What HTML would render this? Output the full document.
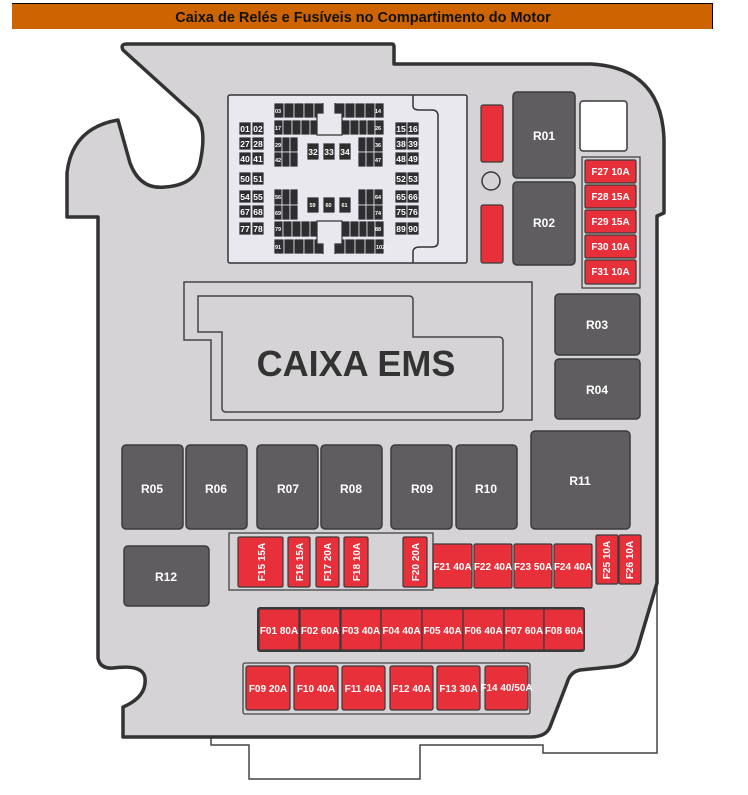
<!DOCTYPE html>
<html><head><meta charset="utf-8"><style>
html,body{margin:0;padding:0;background:#fff;}
svg{display:block;}
text{font-family:"Liberation Sans",Arial,sans-serif;font-weight:bold;}
.r{fill:#5f5d60;stroke:#3a3a3a;stroke-width:1.5;}
.rt{fill:#fff;font-size:12px;text-anchor:middle;}
.f{fill:#e8303a;stroke:#3a3a3a;stroke-width:1.2;}
.ft{fill:#fff;font-size:10px;text-anchor:middle;}
.p{fill:#2e2e30;stroke:#e8e8ee;stroke-width:0.8;}
.pt{fill:#fff;font-size:8.5px;text-anchor:middle;}
.ps{fill:#fff;font-size:5.5px;}
</style></head><body>
<svg width="748" height="795" viewBox="0 0 748 795" xmlns="http://www.w3.org/2000/svg">
<rect x="12" y="3" width="701" height="26" fill="#cd6400"/>
<line x1="12" y1="3.5" x2="713" y2="3.5" stroke="#000" stroke-width="1"/>
<line x1="712.5" y1="3" x2="712.5" y2="29" stroke="#000" stroke-width="1"/>
<text x="363" y="22" font-size="14.5" text-anchor="middle" fill="#111">Caixa de Relés e Fusíveis no Compartimento do Motor</text>

<path d="M211,737 L211,745 L249,745 L249,779 L420,779 L420,745 L543,745 L543,753 L657,753 L657,583" fill="none" stroke="#444" stroke-width="1.5"/>

<path d="M127,44 L392,44 Q394,44 394,47 L394,64 L591,64 Q662,68 664,140 L664,213 L657,216 L657,583 L638,647 Q632,666 610,667 L580,670 Q570,672 567,683 L550,727 Q546,737 530,737 L123,737 L123,707 Q147,697 145,678 Q143,664 113,668 Q100,669 98,658 L98,217 L67,217 L67,173 Q72,128 118,120 L130,163 Q140,190 165,187 Q195,185 200,163 Q207,130 197,117 L123,50 Q120,44 127,44 Z" fill="#d5d3d6" stroke="#333" stroke-width="3.5" stroke-linejoin="round"/>

<rect x="228" y="95" width="239" height="168" rx="2" fill="#e8e8ee" stroke="#333" stroke-width="1.5"/>
<path d="M413,95 L413,106 Q413,110 420,110 L432,110 Q438,110 438,116 L438,242 Q438,247 432,247 L420,247 Q413,247 413,252 L413,263" fill="none" stroke="#333" stroke-width="1.5"/>
<g>
<rect class="p" x="239" y="122" width="12" height="13"/><rect class="p" x="252" y="122" width="12" height="13"/>
<rect class="p" x="239" y="137" width="12" height="13"/><rect class="p" x="252" y="137" width="12" height="13"/>
<rect class="p" x="239" y="152" width="12" height="13"/><rect class="p" x="252" y="152" width="12" height="13"/>
<rect class="p" x="239" y="172" width="12" height="13"/><rect class="p" x="252" y="172" width="12" height="13"/>
<rect class="p" x="239" y="190" width="12" height="13"/><rect class="p" x="252" y="190" width="12" height="13"/>
<rect class="p" x="239" y="205" width="12" height="13"/><rect class="p" x="252" y="205" width="12" height="13"/>
<rect class="p" x="239" y="222" width="12" height="13"/><rect class="p" x="252" y="222" width="12" height="13"/>
<text class="pt" x="245" y="132">01</text><text class="pt" x="258" y="132">02</text>
<text class="pt" x="245" y="147">27</text><text class="pt" x="258" y="147">28</text>
<text class="pt" x="245" y="162">40</text><text class="pt" x="258" y="162">41</text>
<text class="pt" x="245" y="182">50</text><text class="pt" x="258" y="182">51</text>
<text class="pt" x="245" y="200">54</text><text class="pt" x="258" y="200">55</text>
<text class="pt" x="245" y="215">67</text><text class="pt" x="258" y="215">68</text>
<text class="pt" x="245" y="232">77</text><text class="pt" x="258" y="232">78</text>

<rect class="p" x="395" y="122" width="12" height="13"/><rect class="p" x="407" y="122" width="12" height="13"/>
<rect class="p" x="395" y="137" width="12" height="13"/><rect class="p" x="407" y="137" width="12" height="13"/>
<rect class="p" x="395" y="152" width="12" height="13"/><rect class="p" x="407" y="152" width="12" height="13"/>
<rect class="p" x="395" y="172" width="12" height="13"/><rect class="p" x="407" y="172" width="12" height="13"/>
<rect class="p" x="395" y="190" width="12" height="13"/><rect class="p" x="407" y="190" width="12" height="13"/>
<rect class="p" x="395" y="205" width="12" height="13"/><rect class="p" x="407" y="205" width="12" height="13"/>
<rect class="p" x="395" y="222" width="12" height="13"/><rect class="p" x="407" y="222" width="12" height="13"/>
<text class="pt" x="401" y="132">15</text><text class="pt" x="413" y="132">16</text>
<text class="pt" x="401" y="147">38</text><text class="pt" x="413" y="147">39</text>
<text class="pt" x="401" y="162">48</text><text class="pt" x="413" y="162">49</text>
<text class="pt" x="401" y="182">52</text><text class="pt" x="413" y="182">53</text>
<text class="pt" x="401" y="200">65</text><text class="pt" x="413" y="200">66</text>
<text class="pt" x="401" y="215">75</text><text class="pt" x="413" y="215">76</text>
<text class="pt" x="401" y="232">89</text><text class="pt" x="413" y="232">90</text>
</g>
<g>
<rect class="p" x="274" y="103" width="10" height="15"/><rect class="p" x="284" y="103" width="10" height="15"/><rect class="p" x="294" y="103" width="10" height="15"/><rect class="p" x="304" y="103" width="10" height="15"/><rect class="p" x="314" y="103" width="9" height="15"/>
<rect class="p" x="335" y="103" width="10" height="15"/><rect class="p" x="345" y="103" width="10" height="15"/><rect class="p" x="355" y="103" width="10" height="15"/><rect class="p" x="365" y="103" width="10" height="15"/><rect class="p" x="375" y="103" width="9" height="15"/>
<rect class="p" x="274" y="120" width="9" height="15"/><rect class="p" x="283" y="120" width="9" height="15"/><rect class="p" x="292" y="120" width="9" height="15"/><rect class="p" x="301" y="120" width="9" height="15"/><rect class="p" x="310" y="120" width="7" height="15"/>
<rect class="p" x="342" y="120" width="8" height="15"/><rect class="p" x="350" y="120" width="9" height="15"/><rect class="p" x="359" y="120" width="8" height="15"/><rect class="p" x="367" y="120" width="8" height="15"/><rect class="p" x="375" y="120" width="9" height="15"/>
<path d="M323,103 L323,113 L317,113 L317,135 L342,135 L342,113 L335,113 L335,103" fill="#e8e8ee" stroke="#333" stroke-width="1.2"/>
<text class="ps" x="275" y="113">03</text><text class="ps" x="375" y="113">14</text>
<text class="ps" x="275" y="130">17</text><text class="ps" x="375" y="130">26</text>
<rect class="p" x="274" y="221" width="9" height="16"/><rect class="p" x="283" y="221" width="9" height="16"/><rect class="p" x="292" y="221" width="9" height="16"/><rect class="p" x="301" y="221" width="9" height="16"/><rect class="p" x="310" y="221" width="7" height="16"/>
<rect class="p" x="342" y="221" width="8" height="16"/><rect class="p" x="350" y="221" width="9" height="16"/><rect class="p" x="359" y="221" width="8" height="16"/><rect class="p" x="367" y="221" width="8" height="16"/><rect class="p" x="375" y="221" width="9" height="16"/>
<rect class="p" x="274" y="239" width="10" height="15"/><rect class="p" x="284" y="239" width="10" height="15"/><rect class="p" x="294" y="239" width="10" height="15"/><rect class="p" x="304" y="239" width="10" height="15"/><rect class="p" x="314" y="239" width="9" height="15"/>
<rect class="p" x="335" y="239" width="10" height="15"/><rect class="p" x="345" y="239" width="10" height="15"/><rect class="p" x="355" y="239" width="10" height="15"/><rect class="p" x="365" y="239" width="10" height="15"/><rect class="p" x="375" y="239" width="9" height="15"/>
<path d="M323,254 L323,244 L317,244 L317,221 L342,221 L342,244 L335,244 L335,254" fill="#e8e8ee" stroke="#333" stroke-width="1.2"/>
<text class="ps" x="275" y="231">79</text><text class="ps" x="375" y="231">88</text>
<text class="ps" x="275" y="249">91</text><text class="ps" x="376" y="249">102</text>
<rect class="p" x="274" y="137" width="8" height="15"/><rect class="p" x="282" y="137" width="8" height="15"/><rect class="p" x="290" y="137" width="8" height="15"/>
<rect class="p" x="274" y="152" width="8" height="15"/><rect class="p" x="282" y="152" width="8" height="15"/><rect class="p" x="290" y="152" width="8" height="15"/>
<rect class="p" x="358" y="137" width="8" height="15"/><rect class="p" x="366" y="137" width="8" height="15"/><rect class="p" x="374" y="137" width="9" height="15"/>
<rect class="p" x="358" y="152" width="8" height="15"/><rect class="p" x="366" y="152" width="8" height="15"/><rect class="p" x="374" y="152" width="9" height="15"/>
<rect class="p" x="274" y="189" width="8" height="16"/><rect class="p" x="282" y="189" width="8" height="16"/><rect class="p" x="290" y="189" width="8" height="16"/>
<rect class="p" x="274" y="205" width="8" height="15"/><rect class="p" x="282" y="205" width="8" height="15"/><rect class="p" x="290" y="205" width="8" height="15"/>
<rect class="p" x="358" y="189" width="8" height="16"/><rect class="p" x="366" y="189" width="8" height="16"/><rect class="p" x="374" y="189" width="9" height="16"/>
<rect class="p" x="358" y="205" width="8" height="15"/><rect class="p" x="366" y="205" width="8" height="15"/><rect class="p" x="374" y="205" width="9" height="15"/>
<text class="ps" x="275" y="147">29</text><text class="ps" x="375" y="147">36</text>
<text class="ps" x="275" y="162">42</text><text class="ps" x="375" y="162">47</text>
<text class="ps" x="275" y="199">56</text><text class="ps" x="375" y="199">64</text>
<text class="ps" x="275" y="215">69</text><text class="ps" x="375" y="215">74</text>
<rect class="p" x="307" y="143" width="12" height="17"/><rect class="p" x="323" y="143" width="12" height="17"/><rect class="p" x="339" y="143" width="12" height="17"/>
<text class="pt" x="313" y="155">32</text><text class="pt" x="329" y="155">33</text><text class="pt" x="345" y="155">34</text>
<rect class="p" x="307" y="197" width="12" height="16"/><rect class="p" x="323" y="197" width="12" height="16"/><rect class="p" x="339" y="197" width="12" height="16"/>
<text class="ps" x="309.5" y="207">59</text><text class="ps" x="325.5" y="207">60</text><text class="ps" x="341.5" y="207">61</text>
</g>

<rect x="481" y="105" width="22" height="57" rx="2" fill="#e8303a" stroke="#3a3a3a" stroke-width="1.2"/>
<rect x="481" y="205" width="22" height="58" rx="2" fill="#e8303a" stroke="#3a3a3a" stroke-width="1.2"/>
<circle cx="491" cy="181" r="9" fill="none" stroke="#3a3a3a" stroke-width="1.5"/>

<rect class="r" x="513" y="92" width="62" height="86" rx="4"/><text class="rt" x="544" y="140">R01</text>
<rect class="r" x="513" y="182" width="62" height="83" rx="4"/><text class="rt" x="544" y="227">R02</text>
<rect x="580" y="101" width="47" height="50" rx="3" fill="#fff" stroke="#3a3a3a" stroke-width="1.5"/>

<rect x="582" y="157" width="58" height="131" fill="#d5d3d6" stroke="#444" stroke-width="1.3"/>
<rect class="f" x="585" y="160" width="51" height="23" rx="1.5"/><text class="ft" x="610.5" y="175" font-size="11">F27 10A</text>
<rect class="f" x="585" y="185" width="51" height="23" rx="1.5"/><text class="ft" x="610.5" y="200" font-size="11">F28 15A</text>
<rect class="f" x="585" y="210" width="51" height="23" rx="1.5"/><text class="ft" x="610.5" y="225" font-size="11">F29 15A</text>
<rect class="f" x="585" y="235" width="51" height="23" rx="1.5"/><text class="ft" x="610.5" y="250" font-size="11">F30 10A</text>
<rect class="f" x="585" y="260" width="51" height="24" rx="1.5"/><text class="ft" x="610.5" y="275" font-size="11">F31 10A</text>

<path d="M184,282 L532,282 L532,420 L211,420 L211,340 L184,340 Z" fill="none" stroke="#444" stroke-width="1.5"/>
<path d="M198,296 L409,296 Q413,296 413,300 L413,337 L499,337 Q503,337 503,341 L503,408 Q503,412 499,412 L226,412 Q222,412 222,408 L222,332 L198,332 Z" fill="none" stroke="#444" stroke-width="1.5"/>
<text x="356" y="376" font-size="36" text-anchor="middle" fill="#333">CAIXA EMS</text>

<rect class="r" x="555" y="294" width="85" height="61" rx="4"/><text class="rt" x="597" y="329">R03</text>
<rect class="r" x="555" y="359" width="85" height="60" rx="4"/><text class="rt" x="597" y="394">R04</text>
<rect class="r" x="531" y="431" width="99" height="98" rx="4"/><text class="rt" x="580" y="485">R11</text>

<rect class="r" x="122" y="445" width="61" height="84" rx="4"/><text class="rt" x="152" y="493">R05</text>
<rect class="r" x="186" y="445" width="61" height="84" rx="4"/><text class="rt" x="216" y="493">R06</text>
<rect class="r" x="257" y="445" width="61" height="84" rx="4"/><text class="rt" x="288" y="493">R07</text>
<rect class="r" x="321" y="445" width="61" height="84" rx="4"/><text class="rt" x="351" y="493">R08</text>
<rect class="r" x="391" y="445" width="61" height="84" rx="4"/><text class="rt" x="422" y="493">R09</text>
<rect class="r" x="456" y="445" width="61" height="84" rx="4"/><text class="rt" x="486" y="493">R10</text>
<rect class="r" x="124" y="546" width="85" height="60" rx="4"/><text class="rt" x="166" y="581">R12</text>

<rect x="229" y="533" width="204" height="57" fill="none" stroke="#444" stroke-width="1.3"/>
<rect class="f" x="238" y="537" width="45" height="50" rx="1.5"/><text class="ft" font-size="12" transform="translate(265,562) rotate(-90)">F15 15A</text>
<rect class="f" x="288" y="537" width="22" height="50" rx="1.5"/><text class="ft" font-size="11.5" transform="translate(303,562) rotate(-90)">F16 15A</text>
<rect class="f" x="316" y="537" width="23" height="50" rx="1.5"/><text class="ft" font-size="11.5" transform="translate(331,562) rotate(-90)">F17 20A</text>
<rect class="f" x="344" y="537" width="24" height="50" rx="1.5"/><text class="ft" font-size="11.5" transform="translate(360,562) rotate(-90)">F18 10A</text>
<rect class="f" x="403" y="537" width="24" height="50" rx="1.5"/><text class="ft" font-size="11.5" transform="translate(419,562) rotate(-90)">F20 20A</text>

<rect class="f" x="433" y="544" width="39" height="44" rx="1.5"/><text class="ft" x="452.5" y="570" font-size="9.5">F21 40A</text>
<rect class="f" x="474" y="544" width="38" height="44" rx="1.5"/><text class="ft" x="493" y="570" font-size="9.5">F22 40A</text>
<rect class="f" x="514" y="544" width="38" height="44" rx="1.5"/><text class="ft" x="533" y="570" font-size="9.5">F23 50A</text>
<rect class="f" x="554" y="544" width="38" height="44" rx="1.5"/><text class="ft" x="573" y="570" font-size="9.5">F24 40A</text>
<rect class="f" x="596" y="535" width="22" height="49" rx="1.5"/><text class="ft" font-size="9.5" transform="translate(610,560) rotate(-90)">F25 10A</text>
<rect class="f" x="619" y="535" width="22" height="49" rx="1.5"/><text class="ft" font-size="9.5" transform="translate(633,560) rotate(-90)">F26 10A</text>

<rect x="257" y="607" width="328" height="45" rx="3" fill="#3a3a3a"/>
<rect class="f" x="259" y="609" width="40" height="41"/><text class="ft" x="279" y="634" font-size="10.5">F01 80A</text>
<rect class="f" x="300" y="609" width="40" height="41"/><text class="ft" x="320" y="634" font-size="10.5">F02 60A</text>
<rect class="f" x="341" y="609" width="40" height="41"/><text class="ft" x="361" y="634" font-size="10.5">F03 40A</text>
<rect class="f" x="381" y="609" width="41" height="41"/><text class="ft" x="401.5" y="634" font-size="10.5">F04 40A</text>
<rect class="f" x="422" y="609" width="41" height="41"/><text class="ft" x="442.5" y="634" font-size="10.5">F05 40A</text>
<rect class="f" x="463" y="609" width="41" height="41"/><text class="ft" x="483.5" y="634" font-size="10.5">F06 40A</text>
<rect class="f" x="504" y="609" width="40" height="41"/><text class="ft" x="524" y="634" font-size="10.5">F07 60A</text>
<rect class="f" x="544" y="609" width="40" height="41"/><text class="ft" x="564" y="634" font-size="10.5">F08 60A</text>

<rect x="243" y="663" width="287" height="51" rx="2" fill="none" stroke="#444" stroke-width="1.3"/>
<rect class="f" x="246" y="666" width="44" height="44" rx="2"/><text class="ft" x="268" y="692">F09 20A</text>
<rect class="f" x="294" y="666" width="44" height="44" rx="2"/><text class="ft" x="316" y="692">F10 40A</text>
<rect class="f" x="342" y="666" width="43" height="44" rx="2"/><text class="ft" x="363.5" y="692">F11 40A</text>
<rect class="f" x="390" y="666" width="43" height="44" rx="2"/><text class="ft" x="411.5" y="692">F12 40A</text>
<rect class="f" x="437" y="666" width="43" height="44" rx="2"/><text class="ft" x="458.5" y="692">F13 30A</text>
<rect class="f" x="485" y="666" width="43" height="44" rx="2"/><text class="ft" x="506.5" y="691" font-size="8">F14 40/50A</text>
</svg>
</body></html>
